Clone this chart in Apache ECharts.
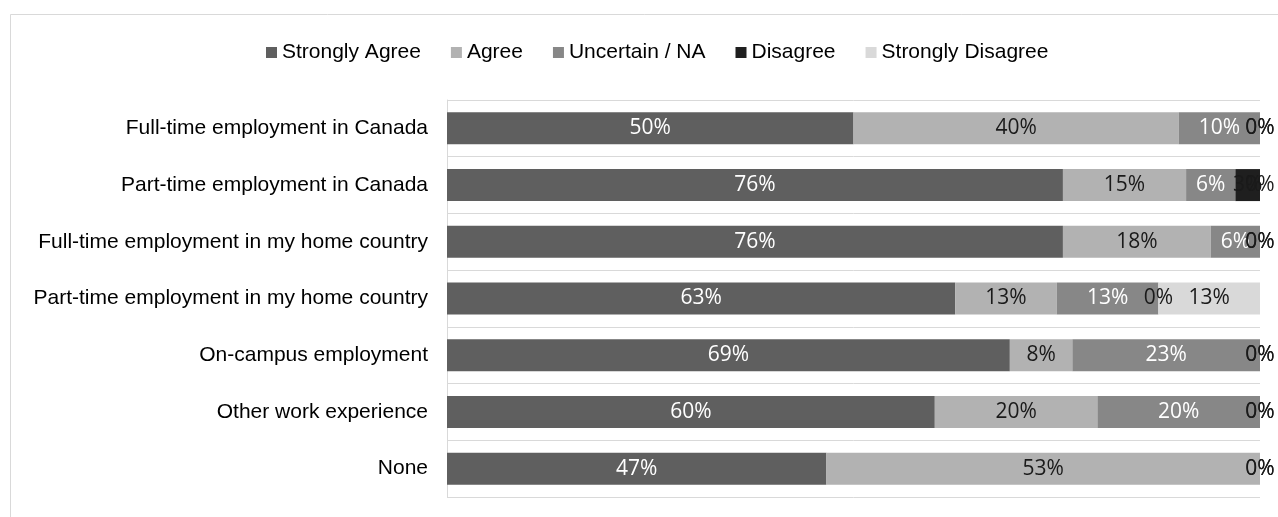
<!DOCTYPE html>
<html>
<head>
<meta charset="utf-8">
<script src="https://cdn.jsdelivr.net/npm/echarts@6/dist/echarts.min.js"></script>
<style>
  html, body { margin: 0; padding: 0; background: #ffffff; }
  #chart { width: 1278px; height: 517px; }
</style>
</head>
<body>
<div id="chart"></div>
<script>
// Survey rows, top to bottom
const categories = [
  'Full-time employment in Canada',
  'Part-time employment in Canada',
  'Full-time employment in my home country',
  'Part-time employment in my home country',
  'On-campus employment',
  'Other work experience',
  'None'
];

// Share of responses per row (percent)
const stronglyAgree    = [50, 75.76, 75.76, 62.5, 69.23, 60, 46.67];
const agree            = [40, 15.15, 18.18, 12.5, 7.69, 20, 53.33];
const uncertain        = [10, 6.06, 6.06, 12.5, 23.08, 20, 0];
const disagree         = [0, 3.03, 0, 0, 0, 0, 0];
const stronglyDisagree = [0, 0, 0, 12.5, 0, 0, 0];

const seriesNames = ['Strongly Agree', 'Agree', 'Uncertain / NA', 'Disagree', 'Strongly Disagree'];
const seriesValues = [stronglyAgree, agree, uncertain, disagree, stronglyDisagree];
const barColors = ['#5f5f5f', '#b2b2b2', '#878787', '#1f1f1f', '#d9d9d9'];
const labelColors = ['#ffffff', '#1a1a1a', '#ffffff', '#1a1a1a', '#1a1a1a'];

const chart = echarts.init(document.getElementById('chart'), null, { renderer: 'canvas' });

const series = seriesNames.map((name, i) => ({
  name: name,
  type: 'bar',
  stack: 'total',
  barWidth: 32,
  data: seriesValues[i],
  itemStyle: { color: barColors[i] },
  label: {
    show: true,
    position: 'inside',
    formatter: p => Math.round(p.value) + '%',
    color: labelColors[i],
    fontFamily: 'Open Sans',
    fontSize: 21,
    textBorderWidth: 0
  },
  emphasis: { disabled: true }
}));

chart.setOption({
  animation: false,
  backgroundColor: '#ffffff',
  graphic: [{
    type: 'rect',
    shape: { x: 10.5, y: 14.5, width: 1400, height: 700 },
    style: { fill: 'none', stroke: '#d9d9d9', lineWidth: 1 },
    silent: true,
    z: -1
  }],
  legend: {
    left: 261,
    top: 37,
    itemWidth: 11,
    itemHeight: 11,
    itemGap: 30,
    icon: 'rect',
    textStyle: { fontFamily: 'Liberation Sans', fontSize: 21, color: '#000000', padding: [0, 0, 0, 0] },
    data: seriesNames
  },
  grid: { left: 447, right: 18, top: 100, bottom: 20, containLabel: false },
  xAxis: {
    type: 'value',
    min: 0,
    max: 100,
    show: false
  },
  yAxis: {
    type: 'category',
    inverse: true,
    data: categories,
    axisLine: { show: true, lineStyle: { color: '#d9d9d9', width: 1 } },
    axisTick: { show: false },
    splitLine: { show: true, lineStyle: { color: '#d9d9d9', width: 1 } },
    axisLabel: { fontFamily: 'Liberation Sans', fontSize: 21, color: '#000000', margin: 19 }
  },
  series: series
});
</script>
</body>
</html>
